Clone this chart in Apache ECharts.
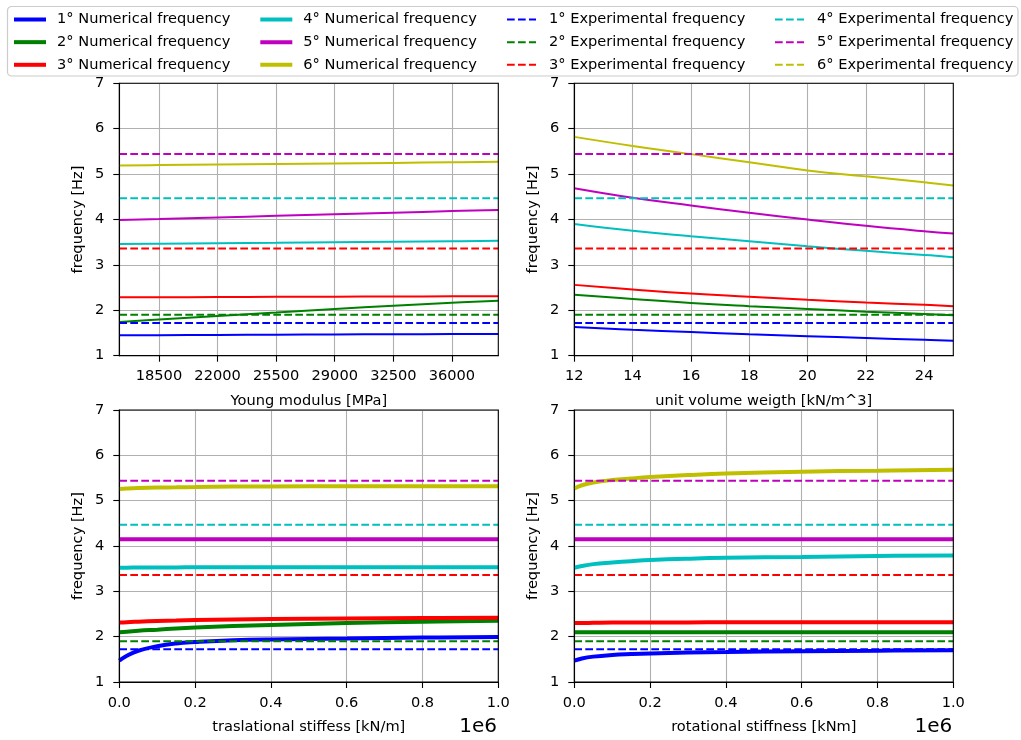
<!DOCTYPE html>
<html><head><meta charset="utf-8">
<script src="https://cdn.jsdelivr.net/npm/echarts@6/dist/echarts.min.js"></script>
<style>html,body{margin:0;padding:0;background:#fff}#c{width:1021px;height:740px}</style>
</head><body><div id="c"></div>
<script>
// ---------------- DATA ----------------
const modeLabels = ['1°', '2°', '3°', '4°', '5°', '6°'];
const numNames = modeLabels.map(m => m + ' Numerical frequency');
const expNames = modeLabels.map(m => m + ' Experimental frequency');
const modeColors = ['#0000ff', '#008000', '#ff0000', '#00bfbf', '#bf00bf', '#bfbf00'];
// experimental frequencies (6th lies outside the visible 1-7 Hz window)
const expFreq = [1.72, 1.90, 3.36, 4.47, 5.44, null];

// Panel 1: Young modulus [MPa]
const youngX = [16130, 18500, 22000, 25500, 29000, 32500, 36000, 38770];
const youngTicks = [18500, 22000, 25500, 29000, 32500, 36000];
const youngF1 = [1.450, 1.453, 1.458, 1.463, 1.468, 1.472, 1.477, 1.480];
const youngF2 = [1.74, 1.80, 1.875, 1.95, 2.03, 2.10, 2.165, 2.21];
const youngF3 = [2.285, 2.288, 2.292, 2.296, 2.300, 2.304, 2.308, 2.31];
const youngF4 = [3.46, 3.467, 3.478, 3.488, 3.499, 3.51, 3.52, 3.53];
const youngF5 = [3.99, 4.01, 4.045, 4.08, 4.115, 4.15, 4.185, 4.21];
const youngF6 = [5.19, 5.198, 5.21, 5.222, 5.235, 5.247, 5.26, 5.27];

// Panel 2: unit volume weight [kN/m^3]
const weightX = [12, 14, 16, 18, 20, 22, 24, 25];
const weightTicks = [12, 14, 16, 18, 20, 22, 24];
const weightF1 = [1.63, 1.57, 1.52, 1.47, 1.43, 1.39, 1.35, 1.33];
const weightF2 = [2.34, 2.25, 2.16, 2.09, 2.03, 1.97, 1.92, 1.89];
const weightF3 = [2.56, 2.46, 2.37, 2.30, 2.23, 2.17, 2.12, 2.09];
const weightF4 = [3.90, 3.75, 3.63, 3.52, 3.41, 3.31, 3.22, 3.17];
const weightF5 = [4.69, 4.48, 4.31, 4.15, 4.00, 3.86, 3.74, 3.69];
const weightF6 = [5.82, 5.62, 5.44, 5.26, 5.08, 4.95, 4.82, 4.75];

// Panel 3: translational stiffness [kN/m]
const traslX = [0, 20000, 50000, 100000, 150000, 200000, 300000, 400000, 600000, 800000, 1000000];
const traslF1 = [1.47, 1.58, 1.69, 1.79, 1.85, 1.88, 1.92, 1.94, 1.96, 1.98, 1.99];
const traslF2 = [2.10, 2.11, 2.13, 2.155, 2.18, 2.20, 2.235, 2.26, 2.30, 2.33, 2.35];
const traslF3 = [2.31, 2.32, 2.33, 2.345, 2.355, 2.365, 2.38, 2.39, 2.40, 2.41, 2.42];
const traslF4 = [3.52, 3.522, 3.525, 3.527, 3.528, 3.529, 3.53, 3.53, 3.53, 3.53, 3.53];
const traslF5 = [4.15, 4.15, 4.15, 4.15, 4.15, 4.15, 4.15, 4.15, 4.15, 4.15, 4.15];
const traslF6 = [5.26, 5.27, 5.28, 5.29, 5.295, 5.30, 5.31, 5.315, 5.32, 5.32, 5.32];

// Panel 4: rotational stiffness [kNm]
const rotX = [0, 20000, 50000, 100000, 150000, 200000, 300000, 400000, 600000, 800000, 1000000];
const rotF1 = [1.47, 1.52, 1.56, 1.595, 1.615, 1.63, 1.65, 1.66, 1.68, 1.69, 1.70];
const rotF2 = [2.10, 2.10, 2.10, 2.10, 2.10, 2.10, 2.10, 2.10, 2.10, 2.10, 2.10];
const rotF3 = [2.30, 2.30, 2.305, 2.31, 2.31, 2.312, 2.315, 2.317, 2.318, 2.319, 2.32];
const rotF4 = [3.52, 3.56, 3.60, 3.635, 3.665, 3.69, 3.72, 3.74, 3.76, 3.78, 3.79];
const rotF5 = [4.15, 4.15, 4.15, 4.15, 4.15, 4.15, 4.15, 4.15, 4.15, 4.15, 4.15];
const rotF6 = [5.27, 5.34, 5.40, 5.455, 5.49, 5.52, 5.565, 5.60, 5.64, 5.66, 5.68];

const yTickLabels = [1, 2, 3, 4, 5, 6, 7];

// ---------------- CHART ----------------
const FONT = 'DejaVu Sans';
const FS = 14.6;
const panels = [
  { xs: youngX, ys: [youngF1, youngF2, youngF3, youngF4, youngF5, youngF6], width: 2, name: 'Young modulus [MPa]' },
  { xs: weightX, ys: [weightF1, weightF2, weightF3, weightF4, weightF5, weightF6], width: 2, name: 'unit volume weigth [kN/m^3]' },
  { xs: traslX, ys: [traslF1, traslF2, traslF3, traslF4, traslF5, traslF6], width: 4, name: 'traslational stiffess [kN/m]' },
  { xs: rotX, ys: [rotF1, rotF2, rotF3, rotF4, rotF5, rotF6], width: 4, name: 'rotational stiffness [kNm]' }
];
const gridPos = [
  { left: 119.3, top: 83.3, width: 379, height: 272.4 },
  { left: 574.3, top: 83.3, width: 379, height: 272.4 },
  { left: 119.3, top: 410, width: 379, height: 272 },
  { left: 574.3, top: 410, width: 379, height: 272 }
];

function axisBase() {
  return {
    axisLine: { show: true, onZero: false, lineStyle: { color: '#000', width: 1.1 } },
    axisTick: { show: true, inside: false, length: 6, lineStyle: { color: '#000', width: 1.1 } },
    axisLabel: { show: true, color: '#000', fontSize: FS, fontFamily: FONT },
    splitLine: { show: true, lineStyle: { color: '#b0b0b0', width: 1.1 } },
    nameLocation: 'middle',
    nameTextStyle: { color: '#000', fontSize: FS, fontFamily: FONT }
  };
}

const grids = gridPos.map(g => Object.assign({
  show: true, borderColor: '#000', borderWidth: 1.1, backgroundColor: 'transparent', z: 5, containLabel: false
}, g));

const xAxes = panels.map((p, i) => {
  const a = axisBase();
  a.type = 'value';
  a.gridIndex = i;
  a.name = p.name;
  a.nameGap = 38;
  a.axisLabel.margin = 13.5;
  if (i === 0) {
    a.min = youngX[0]; a.max = youngX[youngX.length - 1];
    a.axisTick.customValues = youngTicks;
    a.axisLabel.customValues = youngTicks;
    a.axisLabel.formatter = v => String(v);
  } else if (i === 1) {
    a.min = weightX[0]; a.max = weightX[weightX.length - 1];
    a.axisTick.customValues = weightTicks;
    a.axisLabel.customValues = weightTicks;
    a.axisLabel.formatter = v => String(v);
  } else {
    a.min = 0; a.max = 1000000; a.interval = 200000;
    a.axisLabel.formatter = v => (v / 1e6).toFixed(1);
  }
  return a;
});

const yAxes = panels.map((p, i) => {
  const a = axisBase();
  a.type = 'value';
  a.gridIndex = i;
  a.min = yTickLabels[0];
  a.max = yTickLabels[yTickLabels.length - 1];
  a.interval = 1;
  a.name = 'frequency [Hz]';
  a.nameGap = 33.5;
  a.nameRotate = 90;
  a.axisLabel.margin = 15;
  return a;
});

const series = [];
panels.forEach((p, pi) => {
  p.ys.forEach((ys, k) => {
    series.push({
      type: 'line', name: numNames[k], xAxisIndex: pi, yAxisIndex: pi,
      data: p.xs.map((x, j) => [x, ys[j]]),
      symbol: 'none', showSymbol: false, smooth: 0.45,
      lineStyle: { color: modeColors[k], width: p.width },
      itemStyle: { color: modeColors[k] },
      emphasis: { disabled: true }, animation: false, z: 3
    });
  });
  const x0 = p.xs[0], x1 = p.xs[p.xs.length - 1];
  expFreq.forEach((v, k) => {
    series.push({
      type: 'line', name: expNames[k], xAxisIndex: pi, yAxisIndex: pi,
      data: [[x0, v], [x1, v]],
      symbol: 'none', showSymbol: false,
      lineStyle: { color: modeColors[k], width: 2, type: [7.7, 3.3] },
      itemStyle: { color: modeColors[k] },
      emphasis: { disabled: true }, animation: false, z: 4
    });
  });
});

function legendCol(names, left, dashed) {
  return {
    show: true, orient: 'vertical', left: left, top: 12, padding: 0,
    itemGap: 7.65, itemWidth: dashed ? 29 : 32, itemHeight: 14,
    data: names, selectedMode: false,
    textStyle: { fontFamily: FONT, fontSize: FS, color: '#000', padding: [0, 0, 0, dashed ? 8 : 6] },
    lineStyle: dashed ? { width: 2, type: [7.7, 3.3] } : { width: 4, type: 'solid' },
    itemStyle: { opacity: 0, borderWidth: 0 },
    z: 10
  };
}

const option = {
  backgroundColor: '#fff',
  animation: false,
  grid: grids,
  xAxis: xAxes,
  yAxis: yAxes,
  legend: [
    legendCol(numNames.slice(0, 3), 12, false),
    legendCol(numNames.slice(3, 6), 258.3, false),
    legendCol(expNames.slice(0, 3), 506, true),
    legendCol(expNames.slice(3, 6), 774, true)
  ],
  graphic: [
    { type: 'rect', z: 8, shape: { x: 7.5, y: 6.5, width: 1010.5, height: 69.5, r: 4 },
      style: { fill: 'rgba(255,255,255,0.8)', stroke: '#cccccc', lineWidth: 1.2 } },
    { type: 'text', z: 10, x: 497, y: 727,
      style: { text: '1e6', font: '20px "DejaVu Sans"', fill: '#000', textAlign: 'right', textVerticalAlign: 'middle' } },
    { type: 'text', z: 10, x: 952.3, y: 727,
      style: { text: '1e6', font: '20px "DejaVu Sans"', fill: '#000', textAlign: 'right', textVerticalAlign: 'middle' } }
  ],
  series: series
};

const chart = echarts.init(document.getElementById('c'), null, { renderer: 'canvas' });
chart.setOption(option);
</script>
</body></html>
